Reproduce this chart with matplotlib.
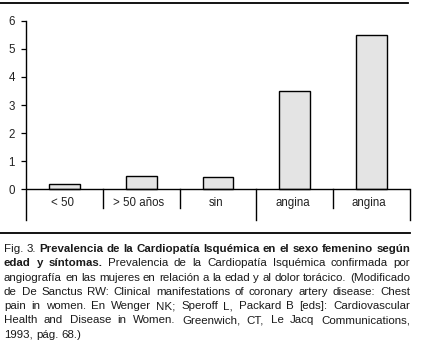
import matplotlib
matplotlib.use("Agg")
import matplotlib.pyplot as plt
from matplotlib.lines import Line2D

plt.rcParams['font.family'] = ['Liberation Sans', 'DejaVu Sans']

# prevalencia por grupo
categorias = ["< 50", "> 50 años", "sin", "angina", "angina"]
valores = [0.2, 0.48, 0.45, 3.5, 5.5]
yticks = [0, 1, 2, 3, 4, 5, 6]

# pie de figura, linea por linea: (texto, negrita)
pie = [
    [("Fig. 3.", False), ("Prevalencia de la Cardiopatía Isquémica en el sexo femenino según", True)],
    [("edad y síntomas.", True), ("Prevalencia de la Cardiopatía Isquémica confirmada por", False)],
    [("angiografía en las mujeres en relación a la edad y al dolor torácico. (Modificado", False)],
    [("de De Sanctus RW: Clinical manifestations of coronary artery disease: Chest", False)],
    [("pain in women. En Wenger NK; Speroff L, Packard B [eds]: Cardiovascular", False)],
    [("Health and Disease in Women. Greenwich, CT, Le Jacq Communications,", False)],
    [("1993, pág. 68.)", False)],
]

W, H = 422, 344
fig = plt.figure(figsize=(W / 100, H / 100), dpi=100, facecolor="white")
ax = fig.add_axes([26 / W, 1 - 220 / H, 384 / W, (220 - 20.7) / H])

ymin = -1.09
x = [i + 0.5 for i in range(len(categorias))]
ax.bar(x, valores, width=0.4, color="#e4e4e4", edgecolor="black", linewidth=1.0, zorder=3)

ax.set_xlim(0, len(categorias))
ax.set_ylim(ymin, 6)
ax.set_yticks(yticks)
ax.set_yticklabels([str(t) for t in yticks], fontsize=8.3, color="#222222")
ax.set_xticks([])
ax.tick_params(axis="y", length=3.5, width=0.9, pad=4.5, direction="out")

for s in ["top", "right", "bottom"]:
    ax.spines[s].set_visible(False)
ax.spines["left"].set_linewidth(1.0)

# linea base y casillas de las categorias
ax.axhline(0, color="black", linewidth=1.0, zorder=4)
for i in range(1, len(categorias) + 1):
    fondo = ymin if i in (3, 5) else -0.67
    ax.plot([i, i], [0, fondo], color="black", linewidth=1.0, clip_on=False)
for xi, c in zip(x, categorias):
    ax.text(xi - 0.03, -0.49, c, ha="center", va="center", fontsize=8.3, color="#222222")

# filetes superior e inferior
fig.add_artist(Line2D([0, 408 / W], [1 - 3.2 / H] * 2, color="black", linewidth=1.3))
fig.add_artist(Line2D([0, 410 / W], [1 - 233 / H] * 2, color="black", linewidth=1.3))

renderer = fig.canvas.get_renderer()
x0, x1 = 4, 410

# tamaño del pie: la linea mas larga ocupa todo el ancho con espacios normales
prueba = fig.text(0, 0, pie[2][0][0], fontsize=10)
fs = 10 * (x1 - x0) / prueba.get_window_extent(renderer).width
prueba.remove()

# pie justificado palabra por palabra
for n, linea in enumerate(pie):
    y = 1 - (252.3 + 14.2 * n) / H
    palabras = []
    for texto, negrita in linea:
        for p in texto.split():
            palabras.append((p, negrita))
    textos = []
    ancho = 0
    for p, negrita in palabras:
        t = fig.text(0, y, p, fontsize=fs, color="#1a1a1a",
                     fontweight="bold" if negrita else "normal", va="baseline")
        w = t.get_window_extent(renderer).width
        textos.append((t, w))
        ancho += w
    if n == len(pie) - 1:
        hueco = fs * 100 / 72 * 0.278
    else:
        hueco = (x1 - x0 - ancho) / (len(textos) - 1)
    pos = x0
    for t, w in textos:
        t.set_x(pos / W)
        pos += w + hueco

fig.savefig("out.png", dpi=100, facecolor="white")
